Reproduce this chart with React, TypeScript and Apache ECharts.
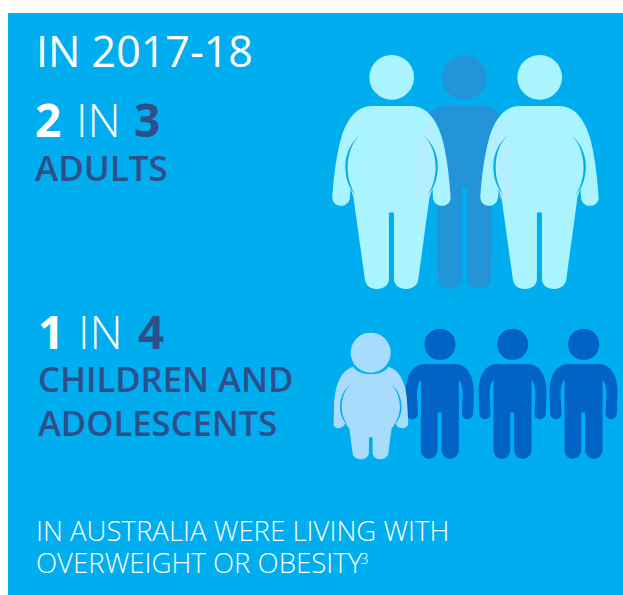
import React, { useEffect, useRef } from "react";
import * as echarts from "echarts";

const FONT = "'Open Sans', 'Noto Sans', sans-serif";
const BG = "#00adef";
const NAVY = "#2e4f8a";
const ADULT_LIGHT = "#aaf4ff";
const ADULT_MID = "#2394d8";
const CHILD_LIGHT = "#a8dcfd";
const CHILD_DARK = "#0063c5";

const titleText = "IN 2017-18";
const adultRatio = ["2", "IN", "3"];
const adultLabel = "ADULTS";
const childRatio = ["1", "IN", "4"];
const childLabel = ["CHILDREN AND", "ADOLESCENTS"];
const footerLines = ["IN AUSTRALIA WERE LIVING WITH", "OVERWEIGHT OR OBESITY"];
const footnote = "3";

const P_ADULT =
  "M155 198 L275 198 C320 198 350 240 365 290 C380 340 388 410 392 470 C394 488 380 498 366 498 C350 498 338 486 339 468 L338 446 L329 470 L295 720 C293 740 270 748 258 748 C240 748 222 738 222 718 L222 518 L207 518 L207 718 C207 738 190 748 172 748 C155 748 138 740 135 720 L100 470 L92 446 L90 468 C91 486 78 498 64 498 C48 498 36 486 37 470 C41 410 50 340 65 290 C80 240 110 198 155 198 Z";
const P_ADULT_CREASE =
  "M120 285 C95 305 76 340 76 380 C76 420 90 450 110 468 C95 450 83 420 83 382 C83 340 98 305 120 285 Z M310 285 C335 305 354 340 354 380 C354 420 340 450 320 468 C335 450 347 420 347 382 C347 340 332 305 310 285 Z";
const P_MID =
  "M385 195 L481 195 C515 195 540 215 552 240 C575 290 582 380 582 455 C582 470 570 482 556 482 C542 482 530 470 530 455 L516 300 L514 715 C514 735 497 748 477 748 C457 748 441 735 441 715 L441 444 L426 444 L426 715 C426 735 410 748 390 748 C370 748 353 735 353 715 L350 300 L336 455 C336 470 324 482 310 482 C296 482 284 470 284 455 C284 380 291 290 314 240 C326 215 351 195 385 195 Z";
const P_GHOST =
  "M326 232 C295 280 284 380 284 455 C284 470 296 482 310 482 C320 482 328 478 331 468 L338 446 L339 460 L352 330 C352 300 342 260 326 232 Z";
const P_CHILD =
  "M315 132 L405 132 C440 132 462 165 462 215 L460 280 C460 292 450 298 442 298 C432 298 425 290 426 278 L429 225 C429 205 423 185 417 178 L417 388 C417 405 405 417 390 417 C375 417 365 405 365 390 L365 278 L353 278 L353 390 C353 405 342 417 328 417 C313 417 303 405 303 388 L303 178 C296 185 291 205 291 225 L294 278 C295 290 288 298 278 298 C270 298 260 292 260 280 L258 215 C258 165 280 132 315 132 Z";
const P_OBESE_CHILD =
  "M85 125 C100 155 175 155 190 125 C225 135 245 175 247 240 L250 295 C250 305 240 310 232 310 C222 310 216 305 212 296 L200 310 L190 385 C188 398 175 403 165 403 C152 403 143 395 143 383 L143 337 L132 337 L132 383 C132 395 122 403 110 403 C95 403 85 398 83 385 L73 310 L60 296 C56 305 50 310 42 310 C32 310 25 305 26 295 L27 240 C30 175 50 135 85 125 Z";
const P_OBESE_CREASE =
  "M75 180 C55 195 45 220 45 245 C45 270 55 290 70 303 C60 290 50 270 50 245 C50 220 60 195 75 180 Z M200 180 C220 195 230 220 230 245 C230 270 220 290 205 303 C215 290 225 270 225 245 C225 220 215 195 200 180 Z";

const SHAPES: Record<string, string> = {
  adultBody: P_ADULT,
  adultCrease: P_ADULT_CREASE,
  midBody: P_MID,
  ghostArm: P_GHOST,
  childBody: P_CHILD,
  obeseBody: P_OBESE_CHILD,
  obeseCrease: P_OBESE_CREASE,
};
Object.keys(SHAPES).forEach((k) =>
  echarts.graphic.registerShape(k, echarts.graphic.extendPath(SHAPES[k], {}))
);

const label = (x: number, y: number, text: string, size: number, weight: number, fill: string) => ({
  type: "text",
  x,
  y,
  style: {
    text,
    fontFamily: FONT,
    fontSize: size,
    fontWeight: weight,
    lineHeight: size,
    fill,
    verticalAlign: "middle",
  },
});

const ratio = (xs: number[], y: number, parts: string[]) => [
  label(xs[0], y, parts[0], 46, 700, "#ffffff"),
  label(xs[1], y, parts[1], 46, 300, "#ffffff"),
  label(xs[2], y, parts[2], 46, 700, NAVY),
];

const shape = (type: string, ox: number, oy: number, fill: string, extra: object = {}) => ({
  type,
  x: ox,
  y: oy,
  scaleX: 1 / 3,
  scaleY: 1 / 3,
  style: { fill },
  ...extra,
});

const head = (cx: number, cy: number, r: number, fill: string) => ({
  type: "circle",
  shape: { cx, cy, r },
  style: { fill },
});

function buildGraphics() {
  const a = { x: 320, y: 40 };
  const c = { x: 320, y: 320 };
  const oc = { x: 325, y: 325 };
  const rightShift = 444 / 3;
  return [
    { type: "rect", shape: { x: 8, y: 13, width: 615, height: 582 }, style: { fill: BG } },
    label(36, 50, titleText, 43, 500, "#ffffff"),
    ...ratio([35, 76, 134], 119, adultRatio),
    label(35, 167, adultLabel, 35, 600, NAVY),
    ...ratio([38, 78, 138], 331, childRatio),
    label(38, 378, childLabel[0], 34.6, 600, NAVY),
    label(38, 422, childLabel[1], 34.6, 600, NAVY),
    label(36, 530, footerLines[0], 27.6, 300, "#ffffff"),
    label(36, 562, footerLines[1], 27.6, 300, "#ffffff"),
    label(360, 558, footnote, 15, 300, "#ffffff"),

    head(a.x + 433 / 3, a.y + 112 / 3, 67 / 3, ADULT_MID),
    shape("midBody", a.x, a.y, ADULT_MID),
    head(a.x + 215 / 3, a.y + 112 / 3, 67 / 3, ADULT_LIGHT),
    shape("adultBody", a.x, a.y, ADULT_LIGHT),
    head(a.x + rightShift + 215 / 3, a.y + 112 / 3, 67 / 3, ADULT_LIGHT),
    shape("adultBody", a.x + rightShift, a.y, ADULT_LIGHT),
    shape("ghostArm", a.x, a.y, "#c8e6ff", { style: { fill: "#c8e6ff", opacity: 0.35 } }),
    {
      ...shape("ghostArm", a.x + 866 / 3, a.y, "#c8e6ff", { style: { fill: "#c8e6ff", opacity: 0.35 } }),
      scaleX: -1 / 3,
    },
    shape("adultCrease", a.x, a.y, BG),
    shape("adultCrease", a.x + rightShift, a.y, BG),

    ...[0, 218, 431].flatMap((dx) => [
      head(c.x + (360 + dx) / 3, c.y + 73 / 3, 47 / 3, CHILD_DARK),
      shape("childBody", c.x + dx / 3, c.y, CHILD_DARK),
    ]),

    shape("obeseBody", oc.x, oc.y, CHILD_LIGHT),
    shape("obeseCrease", oc.x, oc.y, BG),
    head(oc.x + 137 / 3, oc.y + 83 / 3, 20, CHILD_LIGHT),
  ];
}

export default function App() {
  const ref = useRef<HTMLDivElement>(null);
  useEffect(() => {
    const chart = echarts.init(ref.current!, undefined, { renderer: "svg" });
    chart.setOption({
      animation: false,
      backgroundColor: "#ffffff",
      graphic: { elements: buildGraphics() },
    });
    return () => chart.dispose();
  }, []);
  return <div ref={ref} style={{ position: "absolute", left: 0, top: 0, width: 623, height: 595 }} />;
}
